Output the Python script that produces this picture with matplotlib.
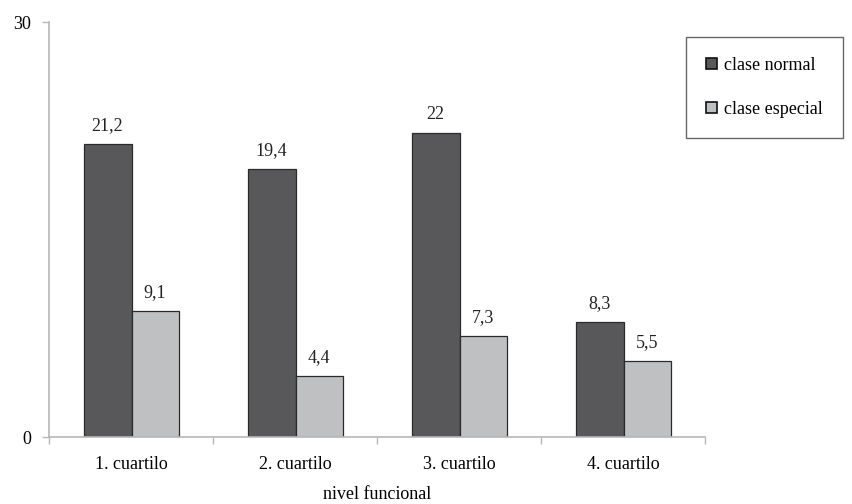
import numpy as np
import matplotlib.pyplot as plt
from matplotlib.patches import Patch

# datos
categorias = ["1. cuartilo", "2. cuartilo", "3. cuartilo", "4. cuartilo"]
clase_normal = [21.2, 19.4, 22, 8.3]
clase_especial = [9.1, 4.4, 7.3, 5.5]
etiquetas_normal = ["21,2", "19,4", "22", "8,3"]
etiquetas_especial = ["9,1", "4,4", "7,3", "5,5"]

C_NORMAL = "#58585a"
C_ESPECIAL = "#bfc0c2"
C_EJE = "#b8b8b8"

plt.rcParams["font.family"] = ["Liberation Serif", "DejaVu Serif"]
plt.rcParams["font.size"] = 13

fig = plt.figure(figsize=(8.53, 5.04), dpi=100)
ax = fig.add_axes([49 / 853, 67 / 504, 656 / 853, 415 / 504])

x = np.arange(len(categorias))
w = 0.29
ax.bar(x - w / 2 + 0.005, clase_normal, w, color=C_NORMAL, edgecolor="#2a2a2a", lw=0.9)
ax.bar(x + w / 2 + 0.005, clase_especial, w, color=C_ESPECIAL, edgecolor="#2a2a2a", lw=0.9)

for xi, v, t in zip(x, clase_normal, etiquetas_normal):
    ax.annotate(t, (xi - w / 2, v), xytext=(0, 7), textcoords="offset points",
                ha="center", va="bottom", color="#222222")
for xi, v, t in zip(x, clase_especial, etiquetas_especial):
    ax.annotate(t, (xi + w / 2, v), xytext=(0, 7), textcoords="offset points",
                ha="center", va="bottom", color="#222222")

ax.set_xlim(-0.5, len(categorias) - 0.5)
ax.set_ylim(0, 30)
ax.set_yticks([0, 30])
ax.set_yticklabels(["0", "30"])
ax.set_xticks(x)
ax.set_xticklabels(categorias)
ax.set_xticks(np.arange(len(categorias) + 1) - 0.5, minor=True)
ax.tick_params(axis="x", which="major", length=0, pad=14)
ax.tick_params(axis="x", which="minor", length=5, color=C_EJE, width=1)
ax.tick_params(axis="y", length=5, color=C_EJE, width=1, pad=8)
ax.set_xlabel("nivel funcional", labelpad=9)

for s in ["top", "right"]:
    ax.spines[s].set_visible(False)
for s in ["left", "bottom"]:
    ax.spines[s].set_color(C_EJE)
    ax.spines[s].set_linewidth(1.2)

handles = [Patch(facecolor=C_NORMAL, edgecolor="#111111", lw=1.2),
           Patch(facecolor=C_ESPECIAL, edgecolor="#111111", lw=1.2)]
leg = fig.legend(handles, ["clase normal", "clase especial"],
                 loc="upper left", bbox_to_anchor=(686 / 853, 1 - 37 / 504),
                 frameon=True, fancybox=False, borderaxespad=0,
                 borderpad=1.1, labelspacing=1.5, handlelength=0.6,
                 handleheight=0.6, handletextpad=0.4)
leg.get_frame().set_edgecolor("#404040")
leg.get_frame().set_linewidth(1.0)

fig.savefig("out.png", dpi=100)
